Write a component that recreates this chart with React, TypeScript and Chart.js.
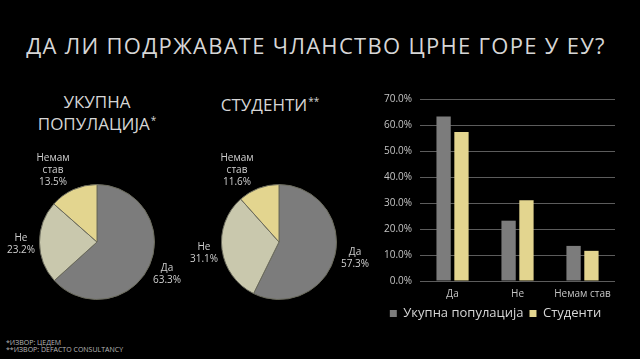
import React, { useEffect, useRef } from "react";
import { Chart, registerables } from "chart.js";

Chart.register(...registerables);

const titleText = "ДА ЛИ ПОДРЖАВАТЕ ЧЛАНСТВО ЦРНЕ ГОРЕ У ЕУ?";
const categories = ["Да", "Не", "Немам став"];
const seriesNames = ["Укупна популација", "Студенти"];
const populationValues = [63.3, 23.2, 13.5];
const studentValues = [57.3, 31.1, 11.6];
const pieTitles = [["УКУПНА", "ПОПУЛАЦИЈА*"], ["СТУДЕНТИ**"]];
const footnotes = ["*ИЗВОР: ЦЕДЕМ", "**ИЗВОР: DEFACTO CONSULTANCY"];
const yMax = 70;
const yStep = 5;
const yLabelStep = 10;

const GREY = "#7c7c7c";
const LIGHT = "#c9c8ad";
const YELLOW = "#e3d58f";
const TEXT = "#d6d6d6";
const FONT = "'Open Sans', 'DejaVu Sans', sans-serif";

const pieColors = [GREY, LIGHT, YELLOW];

// label anchor positions (layout only), per pie, per category
const pieLabelPos = [
  [
    { x: 167, y: 261 },
    { x: 21, y: 231 },
    { x: 53, y: 151 },
  ],
  [
    { x: 355, y: 245 },
    { x: 204, y: 240 },
    { x: 237, y: 151 },
  ],
];

function PieChart({ values, left, top, size }: { values: number[]; left: number; top: number; size: number }) {
  const ref = useRef<HTMLCanvasElement | null>(null);
  useEffect(() => {
    if (!ref.current) return;
    const chart = new Chart(ref.current, {
      type: "pie",
      data: {
        labels: categories,
        datasets: [
          {
            data: values,
            backgroundColor: pieColors,
            borderColor: "#6a6a5c",
            borderWidth: 1,
          },
        ],
      },
      options: {
        responsive: false,
        animation: false,
        layout: { padding: 0 },
        plugins: { legend: { display: false }, tooltip: { enabled: false } },
      },
    });
    return () => chart.destroy();
  }, [values]);
  return (
    <canvas
      ref={ref}
      width={size}
      height={size}
      style={{ position: "absolute", left, top, width: size, height: size }}
    />
  );
}

function BarChart() {
  const ref = useRef<HTMLCanvasElement | null>(null);
  useEffect(() => {
    if (!ref.current) return;
    const chart = new Chart(ref.current, {
      type: "bar",
      data: {
        labels: categories,
        datasets: [
          {
            label: seriesNames[0],
            data: populationValues,
            backgroundColor: GREY,
            categoryPercentage: 0.55,
            barPercentage: 0.8,
          },
          {
            label: seriesNames[1],
            data: studentValues,
            backgroundColor: YELLOW,
            categoryPercentage: 0.55,
            barPercentage: 0.8,
          },
        ],
      },
      options: {
        responsive: false,
        animation: false,
        layout: { padding: { left: 6, right: 17, top: 6, bottom: 0 } },
        scales: {
          y: {
            min: 0,
            max: yMax,
            ticks: {
              stepSize: yStep,
              color: "#c4c4c4",
              font: { family: FONT, size: 10 },
              padding: 8,
              callback: (v: any) => (Number(v) % yLabelStep === 0 ? Number(v).toFixed(1) + "%" : ""),
            },
            grid: { color: "#5c5c5c", drawTicks: false, lineWidth: 1 },
            border: { display: false },
          },
          x: {
            ticks: { color: "#c4c4c4", font: { family: FONT, size: 10 }, padding: 7 },
            grid: { display: false, drawTicks: false },
            border: { display: false },
            afterFit: (scale: any) => {
              scale.height = 20;
            },
          },
        },
        plugins: {
          legend: {
            position: "bottom",
            labels: {
              boxWidth: 7,
              boxHeight: 7,
              color: TEXT,
              font: { family: FONT, size: 13 },
              padding: 6,
            },
          },
          tooltip: { enabled: false },
        },
      },
    });
    return () => chart.destroy();
  }, []);
  return (
    <canvas
      ref={ref}
      width={262}
      height={245}
      style={{ position: "absolute", left: 370, top: 85, width: 262, height: 245 }}
    />
  );
}

function TitleLine({ text }: { text: string }) {
  const m = text.match(/^(.*?)(\**)$/);
  const main = m ? m[1] : text;
  const stars = m ? m[2] : "";
  return (
    <div>
      {main}
      {stars ? (
        <span style={{ fontSize: 10, verticalAlign: "6px", marginLeft: 1 }}>{stars}</span>
      ) : null}
    </div>
  );
}

export default function App() {
  const pies = [populationValues, studentValues];
  const pieLefts = [39, 221];
  const titleCenters = [97, 270];
  return (
    <div
      style={{
        position: "absolute",
        left: 0,
        top: 0,
        width: 640,
        height: 359,
        background: "#000",
        overflow: "hidden",
        fontFamily: FONT,
        color: TEXT,
      }}
    >
      <div
        style={{
          position: "absolute",
          left: -4,
          width: 640,
          top: 30,
          textAlign: "center",
          fontSize: 22,
          lineHeight: "30px",
          letterSpacing: 1.3,
          whiteSpace: "nowrap",
        }}
      >
        {titleText}
      </div>
      {pieTitles.map((lines, i) => (
        <div
          key={"pt" + i}
          style={{
            position: "absolute",
            left: titleCenters[i] - 100,
            width: 200,
            top: 92,
            textAlign: "center",
            fontSize: 17,
            lineHeight: "19px",
            whiteSpace: "nowrap",
          }}
        >
          {lines.map((l, j) => (
            <TitleLine key={j} text={l} />
          ))}
        </div>
      ))}
      {pies.map((vals, i) => (
        <PieChart key={"p" + i} values={vals} left={pieLefts[i]} top={184} size={116} />
      ))}
      {pies.map((vals, i) =>
        vals.map((v, k) => (
          <div
            key={"l" + i + k}
            style={{
              position: "absolute",
              left: pieLabelPos[i][k].x - 40,
              width: 80,
              top: pieLabelPos[i][k].y,
              textAlign: "center",
              fontSize: 10,
              lineHeight: "12px",
              color: "#cfcfcf",
              whiteSpace: "nowrap",
            }}
          >
            {categories[k].split(" ").map((w, j) => (
              <div key={j}>{w}</div>
            ))}
            <div>{v.toFixed(1)}%</div>
          </div>
        ))
      )}
      <BarChart />
      {footnotes.map((f, i) => (
        <div
          key={"f" + i}
          style={{
            position: "absolute",
            left: 6,
            top: 339 + i * 7,
            fontSize: 7,
            lineHeight: "8px",
            color: "#b8b8b8",
            whiteSpace: "nowrap",
          }}
        >
          {f}
        </div>
      ))}
    </div>
  );
}
